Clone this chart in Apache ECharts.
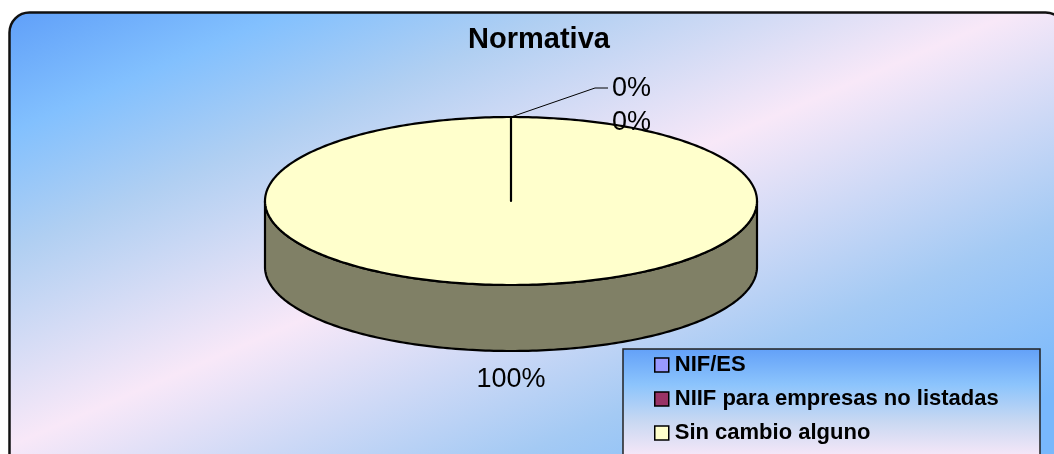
<!DOCTYPE html>
<html>
<head>
<meta charset="utf-8">
<script src="https://cdn.jsdelivr.net/npm/echarts@6/dist/echarts.min.js"></script>
<style>
html,body{margin:0;padding:0;background:#fff;}
#chart{width:1054px;height:454px;}
</style>
</head>
<body>
<div id="chart"></div>
<script>
// ---- data ----
const titleText = 'Normativa';
const categories = ['NIF/ES', 'NIIF para empresas no listadas', 'Sin cambio alguno'];
const values = [0, 0, 100];
const colors = ['#9999ff', '#993366', '#ffffcc'];

// ---- layout / style (not data) ----
const PIE = { cx: 511, cy: 201, rx: 246, ry: 84, depth: 66 };
const labelPlacement = [
  { dx: 101, dy: -28, align: 'left', line: [[84, -29], [97, -29]] },
  { dx: 101, dy: 6, align: 'left', line: null },
  { dx: 0, dy: 29, align: 'center', line: null }
];
const FONT = '"Liberation Sans", Arial, sans-serif';

const total = values.reduce((a, b) => a + b, 0);
const starts = [];
values.reduce((acc, v, i) => { starts[i] = acc; return acc + v; }, 0);

function pt(th, dy) {
  return [PIE.cx + PIE.rx * Math.sin(th), PIE.cy - PIE.ry * Math.cos(th) + (dy || 0)];
}
function arc(a, b, dy) {
  const out = [];
  const n = Math.max(2, Math.ceil((b - a) / (Math.PI / 180)));
  for (let k = 0; k <= n; k++) out.push(pt(a + (b - a) * k / n, dy));
  return out;
}
function shade(hex, f) {
  const n = parseInt(hex.slice(1), 16);
  const r = Math.round(((n >> 16) & 255) * f), g = Math.round(((n >> 8) & 255) * f), b = Math.round((n & 255) * f);
  return 'rgb(' + r + ',' + g + ',' + b + ')';
}

function sliceRenderer(i) {
  return function (params, api) {
    const v = api.value(0);
    if (!v) return { type: 'group', children: [] };
    const a0 = starts[i] / total * Math.PI * 2;
    const a1 = (starts[i] + v) / total * Math.PI * 2;
    const children = [];
    const fa = Math.max(a0, Math.PI / 2), fb = Math.min(a1, Math.PI * 1.5);
    if (fb > fa) {
      const top = arc(fa, fb, 0);
      const bot = arc(fa, fb, PIE.depth).reverse();
      children.push({
        type: 'polygon', z2: 1,
        shape: { points: top.concat(bot) },
        style: { fill: shade(colors[i], 0.5), stroke: '#000', lineWidth: 2.2, lineJoin: 'round' }
      });
    }
    const topPts = [[PIE.cx, PIE.cy]].concat(arc(a0, a1, 0));
    children.push({
      type: 'polygon', z2: 2,
      shape: { points: topPts },
      style: { fill: colors[i], stroke: '#000', lineWidth: 2.2, lineJoin: 'round' }
    });
    return { type: 'group', children };
  };
}

function labelRenderer(params, api) {
  const i = params.dataIndex;
  const v = values[i];
  const mid = (starts[i] + v / 2) / total * Math.PI * 2;
  const front = Math.cos(mid) < 0;
  const anchor = pt(mid, front ? PIE.depth : 0);
  const lp = labelPlacement[i];
  const children = [];
  if (lp.line) {
    const pts = [anchor].concat(lp.line.map(p => [anchor[0] + p[0], anchor[1] + p[1]]));
    children.push({ type: 'polyline', shape: { points: pts }, style: { stroke: '#000', lineWidth: 1, fill: null } });
  }
  children.push({
    type: 'text',
    style: {
      text: Math.round(v / total * 100) + '%',
      x: anchor[0] + lp.dx, y: anchor[1] + lp.dy,
      font: '27px ' + FONT, fill: '#000',
      align: lp.align, verticalAlign: 'middle'
    }
  });
  return { type: 'group', children };
}

const chart = echarts.init(document.getElementById('chart'), null, { renderer: 'canvas' });

const bgGradient = new echarts.graphic.LinearGradient(0, 0, 309, 716, [
  { offset: 0, color: '#5b9bf8' },
  { offset: 0.16, color: '#82c0fe' },
  { offset: 0.30, color: '#b0cff2' },
  { offset: 0.53, color: '#f8e8f8' },
  { offset: 0.80, color: '#a4caf4' },
  { offset: 1, color: '#78b8fc' }
], true);
const legendGradient = new echarts.graphic.LinearGradient(0, 0, 0, 1, [
  { offset: 0, color: '#62a0f8' },
  { offset: 0.3, color: '#8cc4fc' },
  { offset: 0.6, color: '#c8d8f2' },
  { offset: 0.9, color: '#f8e8f8' },
  { offset: 1, color: '#f8e8f8' }
]);

const series = categories.map((name, i) => ({
  type: 'custom',
  name: name,
  coordinateSystem: 'none',
  silent: true,
  z: 2,
  itemStyle: { color: colors[i] },
  data: [[values[i]]],
  renderItem: sliceRenderer(i)
}));
series.push({
  type: 'custom',
  name: 'labels',
  coordinateSystem: 'none',
  silent: true,
  z: 6,
  data: values.map(v => [v]),
  renderItem: labelRenderer
});

chart.setOption({
  animation: false,
  backgroundColor: '#ffffff',
  title: {
    text: titleText,
    left: 534, top: 20, textAlign: 'center',
    textStyle: { fontFamily: FONT, fontWeight: 'bold', fontSize: 29, color: '#000' }
  },
  graphic: [
    {
      type: 'rect', z: -10, silent: true,
      shape: { x: 9.5, y: 12.5, width: 1056, height: 470, r: 20 },
      style: { fill: bgGradient, stroke: '#111', lineWidth: 2.5 }
    },
    {
      type: 'rect', z: -5, silent: true,
      shape: { x: 623, y: 349, width: 417, height: 120 },
      style: { fill: legendGradient, stroke: '#222', lineWidth: 1.5 }
    }
  ],
  legend: {
    data: categories,
    orient: 'vertical',
    left: 654, top: 353,
    height: 200,
    padding: 0,
    icon: 'rect',
    itemWidth: 14, itemHeight: 14,
    itemGap: 10,
    itemStyle: { borderColor: '#000', borderWidth: 1.5 },
    textStyle: { fontFamily: FONT, fontWeight: 'bold', fontSize: 22, color: '#000', lineHeight: 24, padding: [0, 0, 0, 1] },
    selectedMode: false
  },
  series: series
});
</script>
</body>
</html>
